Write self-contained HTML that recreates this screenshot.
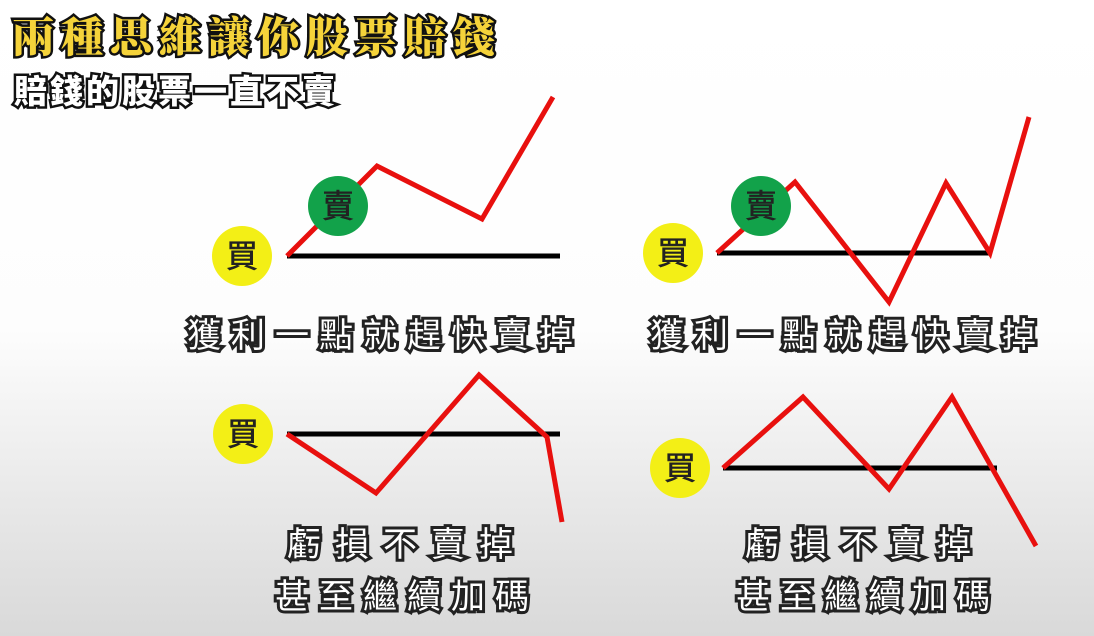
<!DOCTYPE html>
<html><head><meta charset="utf-8">
<style>
html,body{margin:0;padding:0;}
body{width:1094px;height:636px;overflow:hidden;background:linear-gradient(to bottom,#ffffff 0px,#fdfdfd 330px,#e6e6e6 520px,#d9d9d9 636px);font-family:"Liberation Sans","Noto Sans CJK TC",sans-serif;}
svg{position:absolute;left:0;top:0;}
.title{font-family:"Liberation Sans","Noto Serif CJK SC","Noto Sans CJK TC",sans-serif;font-weight:900;font-size:42px;fill:#f5d33a;stroke:#111;stroke-width:5px;paint-order:stroke;letter-spacing:7px;}
.sub{font-weight:900;font-size:33px;fill:#fff;stroke:#111;stroke-width:5px;paint-order:stroke;letter-spacing:3px;}
.cap{font-size:34px;fill:#fff;stroke:#222;stroke-width:6px;paint-order:stroke;font-family:"Liberation Sans","Noto Sans CJK TC",sans-serif;}
.badge{font-size:32px;font-weight:400;fill:#222;stroke:#222;stroke-width:0.6px;font-family:"Liberation Sans","Noto Sans CJK TC",sans-serif;}
</style></head>
<body>
<svg id="chart" width="1094" height="636">
  <text class="title" x="12" y="52">兩種思維讓你股票賠錢</text>
  <text class="sub" x="14" y="103">賠錢的股票一直不賣</text>
  <text class="cap" x="385" y="347" text-anchor="middle" letter-spacing="10">獲利一點就趕快賣掉</text>
  <text class="cap" x="848" y="347" text-anchor="middle" letter-spacing="10">獲利一點就趕快賣掉</text>
  <text class="cap" x="407" y="556" text-anchor="middle" letter-spacing="14">虧損不賣掉</text>
  <text class="cap" x="407" y="608" text-anchor="middle" letter-spacing="10">甚至繼續加碼</text>
  <text class="cap" x="865" y="556" text-anchor="middle" letter-spacing="14">虧損不賣掉</text>
  <text class="cap" x="868" y="608" text-anchor="middle" letter-spacing="10">甚至繼續加碼</text>
  <g id="marks"></g>
</svg>
<script>
// price relative to buy price (positive = above), per step
const p1Values=[0,90,37,159];
const p1Steps=[0,90,195,266];
const p2Values=[0,71,-49,70,0,136];
const p2Steps=[0,78,172,229,273,312];
const p3Values=[0,-59,59,-3,-88];
const p3Steps=[0,89,192,260,275];
const p4Values=[0,71,-21,71,-78];
const p4Steps=[0,80,166,229,313];

const panels=[
 {name:'panel-1',vals:p1Values,steps:p1Steps,x0:287,y0:256,len:273,buy:[242,256],sell:[338,206]},
 {name:'panel-2',vals:p2Values,steps:p2Steps,x0:717,y0:253,len:273,buy:[673,253],sell:[761,206]},
 {name:'panel-3',vals:p3Values,steps:p3Steps,x0:287,y0:434,len:273,buy:[243,434]},
 {name:'panel-4',vals:p4Values,steps:p4Steps,x0:723,y0:468,len:274,buy:[680,468]}
];
const NS='http://www.w3.org/2000/svg';
const g=document.getElementById('marks');
function mk(t,a){const e=document.createElementNS(NS,t);for(const k in a)e.setAttribute(k,a[k]);g.appendChild(e);return e;}
panels.forEach(p=>{
  const xs=s=>p.x0+s, ys=v=>p.y0-v;
  const base=mk('line',{x1:p.x0,y1:p.y0,x2:p.x0+p.len,y2:p.y0,stroke:'#000','stroke-width':5});
  
  
  const pts=p.vals.map((v,i)=>xs(p.steps[i])+','+ys(v)).join(' ');
  const line=mk('polyline',{points:pts,fill:'none',stroke:'#e8100e','stroke-width':5,'stroke-linejoin':'miter'});
  
  
  const bc=mk('circle',{cx:p.buy[0],cy:p.buy[1],r:30,fill:'#f3ef16'});
  
  
  const bt=mk('text',{x:p.buy[0],y:p.buy[1]+11,'text-anchor':'middle',class:'badge'});
  bt.textContent='買';
  
  
  if(p.sell){
    const sc=mk('circle',{cx:p.sell[0],cy:p.sell[1],r:30,fill:'#12a24a'});
    
    
    const st=mk('text',{x:p.sell[0],y:p.sell[1]+11,'text-anchor':'middle',class:'badge'});
    st.textContent='賣';
    
    
  }
});
</script>
</body></html>
